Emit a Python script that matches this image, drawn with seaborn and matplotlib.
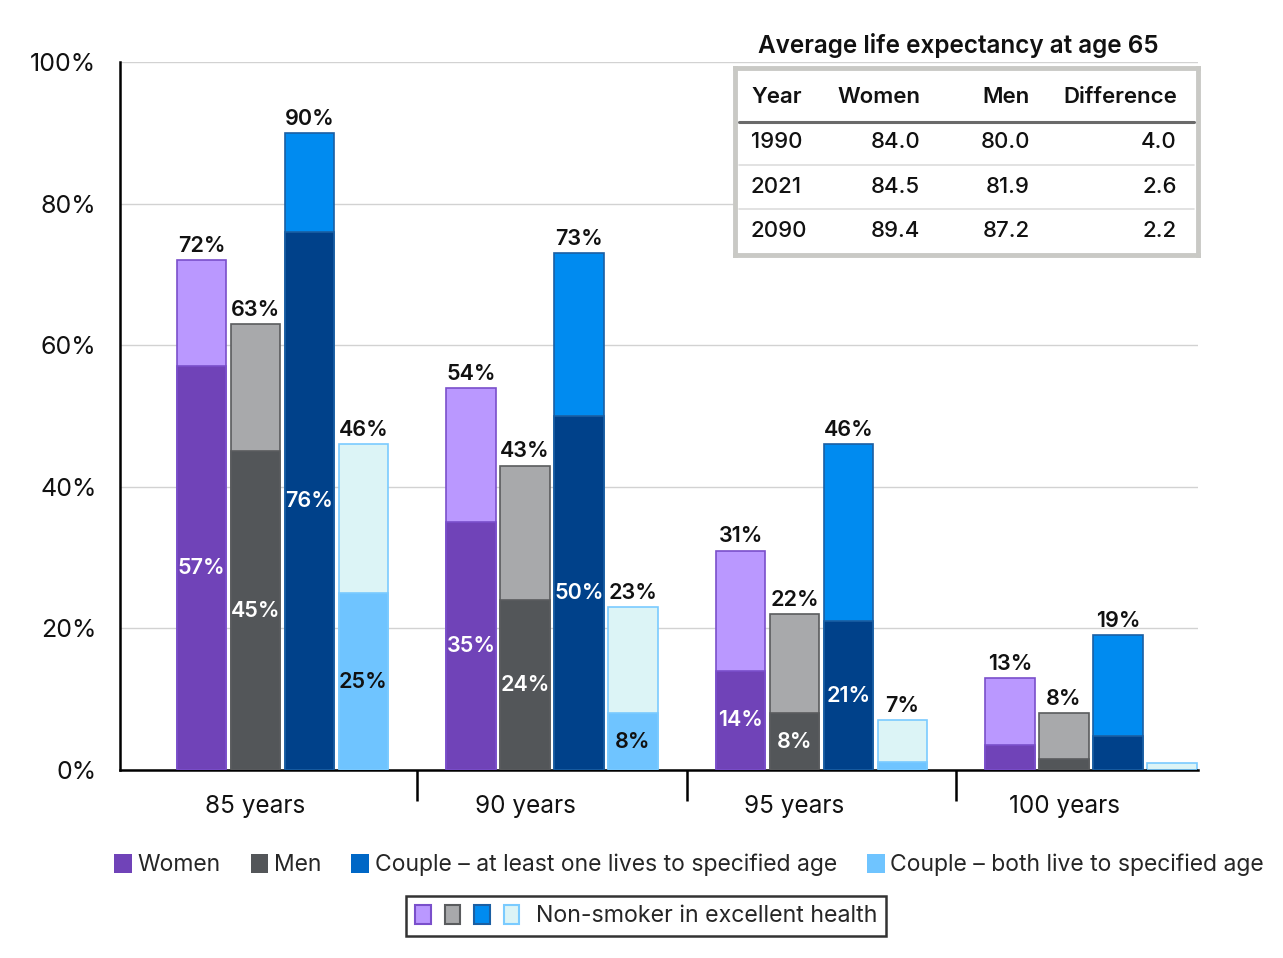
import matplotlib
matplotlib.use("Agg")
import matplotlib.pyplot as plt
import seaborn as sns
import pandas as pd
from matplotlib.patches import Patch
from matplotlib.legend_handler import HandlerTuple

# ---- data ----
ages = ["85 years", "90 years", "95 years", "100 years"]
series = ["Women", "Men",
          "Couple – at least one lives to specified age",
          "Couple – both live to specified age"]

women_total = [72, 54, 31, 13]
women_base = [57, 35, 14, 3.5]
men_total = [63, 43, 22, 8]
men_base = [45, 24, 8, 1.5]
couple_one_total = [90, 73, 46, 19]
couple_one_base = [76, 50, 21, 4.8]
couple_both_total = [46, 23, 7, 1]
couple_both_base = [25, 8, 1.2, 0]

# which values get a printed label (series x age)
show_total = [[True] * 4, [True] * 4, [True] * 4, [True, True, True, False]]
show_base = [[True, True, True, False], [True, True, True, False],
             [True, True, True, False], [True, True, False, False]]

table_title = "Average life expectancy at age 65"
table_cols = ["Year", "Women", "Men", "Difference"]
table_years = ["1990", "2021", "2090"]
table_women = ["84.0", "84.5", "89.4"]
table_men = ["80.0", "81.9", "87.2"]
table_diff = ["4.0", "2.6", "2.2"]

# colours
dark = ["#7043B8", "#535659", "#00418A", "#6FC4FF"]
light = ["#BA98FF", "#A8A9AB", "#008BF0", "#DCF4F6"]
edges = ["#7A4FCB", "#5A5C5E", "#1B5FA3", "#7ACBFF"]
legend_cols = ["#7043B8", "#535659", "#0067C6", "#6FC4FF"]
base_txt = ["white", "white", "white", "#111111"]

W, H = 1283, 958
sns.set_theme(style="white")
plt.rcParams["font.family"] = ["Inter", "DejaVu Sans"]

totals = [women_total, men_total, couple_one_total, couple_both_total]
bases = [women_base, men_base, couple_one_base, couple_both_base]

df_total = pd.DataFrame([(a, s, totals[i][j]) for i, s in enumerate(series)
                         for j, a in enumerate(ages)], columns=["age", "series", "value"])
df_base = pd.DataFrame([(a, s, bases[i][j]) for i, s in enumerate(series)
                        for j, a in enumerate(ages)], columns=["age", "series", "value"])

fig = plt.figure(figsize=(W / 100, H / 100), dpi=100)
ax = fig.add_axes([120 / W, 1 - 770 / H, 1078 / W, 708 / H])

sns.barplot(data=df_total, x="age", y="value", hue="series", order=ages,
            hue_order=series, palette=dict(zip(series, light)), width=0.8,
            gap=0.08, saturation=1, legend=False, ax=ax)
sns.barplot(data=df_base, x="age", y="value", hue="series", order=ages,
            hue_order=series, palette=dict(zip(series, dark)), width=0.8,
            gap=0.08, saturation=1, legend=False, ax=ax)

n = len(series)
tot_conts = ax.containers[:n]
base_conts = ax.containers[n:2 * n]
for i in range(n):
    for p in tot_conts[i]:
        p.set_edgecolor(edges[i]); p.set_linewidth(1.2); p.set_zorder(2)
    for p in base_conts[i]:
        p.set_edgecolor(edges[i]); p.set_linewidth(1.2); p.set_zorder(3)

for i in range(n):
    for j, p in enumerate(tot_conts[i]):
        cx = p.get_x() + p.get_width() / 2
        if show_total[i][j]:
            ax.annotate(f"{totals[i][j]:.0f}%", (cx, totals[i][j]), xytext=(0, 3),
                        textcoords="offset points", ha="center", va="bottom",
                        fontsize=15.5, fontweight="semibold", color="#111111", zorder=5)
        if show_base[i][j]:
            ax.text(cx, bases[i][j] / 2, f"{bases[i][j]:.0f}%", ha="center",
                    va="center", fontsize=15.5, fontweight="semibold",
                    color=base_txt[i], zorder=5)

# bar groups sit a little right of their category labels
ax.set_xlim(-0.603, len(ages) - 0.603)
ax.set_xticks([j - 0.1 for j in range(len(ages))])
ax.set_xticklabels(ages)
ax.set_ylim(0, 100)
ax.set_yticks(range(0, 101, 20))
ax.set_yticklabels([f"{v}%" for v in range(0, 101, 20)], fontsize=18, color="#111111")
ax.yaxis.grid(True, color="#D2D2D2", linewidth=1)
ax.set_axisbelow(True)
ax.tick_params(axis="y", length=0, pad=17)
ax.tick_params(axis="x", which="major", length=0, pad=18, labelsize=17.5, labelcolor="#111111")
ax.set_xticks([0.5, 1.5, 2.5], minor=True)
ax.tick_params(axis="x", which="minor", length=22, width=1.8, color="black", direction="out")
ax.tick_params(axis="x", which="minor", bottom=True)
ax.set_xlabel("")
ax.set_ylabel("")
for s in ["top", "right"]:
    ax.spines[s].set_visible(False)
for s in ["left", "bottom"]:
    ax.spines[s].set_color("black")
    ax.spines[s].set_linewidth(1.8)

# ---- life expectancy table ----
fig.text(958 / W, 1 - 45 / H, table_title, ha="center", va="center",
         fontsize=17.5, fontweight="semibold", color="#111111")
tx = fig.add_axes([735 / W, 1 - 255 / H, 463 / W, 187 / H])
tx.set_xlim(0, 463)
tx.set_ylim(187, 0)
tx.set_xticks([]); tx.set_yticks([])
tx.set_facecolor("white")
tx.grid(False)
for s in tx.spines.values():
    s.set_color("#C9C9C5"); s.set_linewidth(3.5)
tx.plot([4, 459], [54, 54], color="#6A6A6A", lw=2.2)
for yl in [97, 141]:
    tx.plot([4, 459], [yl, yl], color="#DDDDDD", lw=1.2)
hdr_y = 29
row_y = [74, 119, 163]
tkw = dict(fontsize=16, color="#111111", va="center")
tx.text(16, hdr_y, table_cols[0], ha="left", fontweight="semibold", **tkw)
tx.text(102, hdr_y, table_cols[1], ha="left", fontweight="semibold", **tkw)
tx.text(295, hdr_y, table_cols[2], ha="right", fontweight="semibold", **tkw)
tx.text(442, hdr_y, table_cols[3], ha="right", fontweight="semibold", **tkw)
for k, y in enumerate(row_y):
    tx.text(16, y, table_years[k], ha="left", fontweight="medium", **tkw)
    tx.text(185, y, table_women[k], ha="right", fontweight="medium", **tkw)
    tx.text(295, y, table_men[k], ha="right", fontweight="medium", **tkw)
    tx.text(442, y, table_diff[k], ha="right", fontweight="medium", **tkw)

# ---- legends ----
handles = [Patch(facecolor=c, edgecolor="none") for c in legend_cols]
fig.legend(handles, series, loc="center left", bbox_to_anchor=(114 / W, 1 - 865 / H),
           ncol=4, frameon=False, fontsize=16.5, handlelength=0.78, handleheight=0.95,
           handletextpad=0.25, columnspacing=1.3, borderpad=0, borderaxespad=0)

ns = tuple(Patch(facecolor=light[i], edgecolor=edges[i], linewidth=1.5) for i in range(n))
leg2 = fig.legend([ns], ["Non-smoker in excellent health"], loc="center",
                  bbox_to_anchor=(646 / W, 1 - 916 / H), frameon=True, fontsize=16.7,
                  handler_map={tuple: HandlerTuple(ndivide=None, pad=0.6)},
                  handlelength=4.5, handleheight=0.9, handletextpad=0.7,
                  borderpad=0.38, fancybox=False)
leg2.get_frame().set_edgecolor("black")
leg2.get_frame().set_linewidth(1.8)

fig.savefig("out.png", dpi=100)
